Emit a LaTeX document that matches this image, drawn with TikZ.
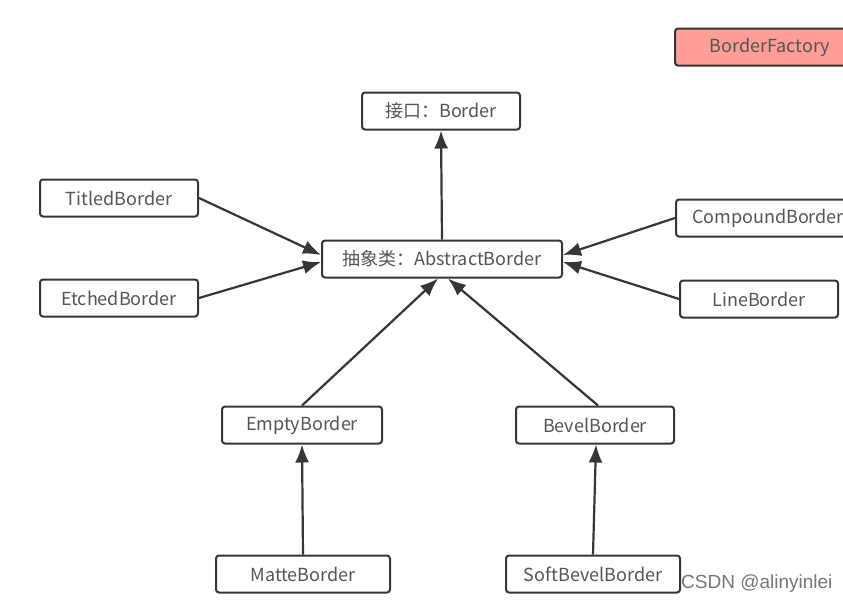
\documentclass[tikz,border=0pt]{standalone}
\usepackage{fontspec}
\setmainfont{Noto Sans CJK SC}
\newfontfamily\markfont{Liberation Sans}
\usetikzlibrary{arrows.meta}
\definecolor{boxline}{HTML}{363636}
\definecolor{boxtext}{HTML}{555555}
\definecolor{factory}{HTML}{FF9E96}

\tikzset{
  cls/.style={draw=boxline, line width=2pt, rounded corners=3pt, fill=white,
    minimum width=158pt, minimum height=37pt, inner sep=0pt,
    text=boxtext, font=\fontsize{18}{21}\selectfont},
  inherit/.style={-{Latex[length=18pt,width=14pt]}, line width=2.2pt, draw=boxline}
}

\begin{document}
\begin{tikzpicture}[x=1pt,y=-1pt]
\useasboundingbox (0,0) rectangle (843,605);
\clip (0,0) rectangle (843,605);
\fill[white] (0,0) rectangle (843,605);

\node[cls, fill=factory, minimum width=190pt] (factory) at (770,47) {BorderFactory};
\node[cls] (border) at (441,111) {接口：Border};
\node[cls, minimum width=240pt] (abs) at (442,259) {抽象类：AbstractBorder};
\node[cls] (titled) at (119,198) {TitledBorder};
\node[cls] (etched) at (119,298) {EtchedBorder};
\node[cls, minimum width=176pt, text width=144pt, align=left] (compound) at (764,218) {CompoundBorder};
\node[cls] (line) at (759,299) {LineBorder};
\node[cls, minimum width=160pt] (empty) at (302,425) {EmptyBorder};
\node[cls] (bevel) at (595,425) {BevelBorder};
\node[cls, minimum width=174pt] (matte) at (303,574) {MatteBorder};
\node[cls, minimum width=174pt] (soft) at (593,574) {SoftBevelBorder};

\draw[inherit] (abs.north) -- (border.south);
\draw[inherit] (titled.east) -- ([yshift=4pt]abs.west);
\draw[inherit] (etched.east) -- ([yshift=-3pt]abs.west);
\draw[inherit] (compound.west) -- ([yshift=4pt]abs.east);
\draw[inherit] (line.west) -- ([yshift=-3pt]abs.east);
\draw[inherit] (empty.north) -- ([xshift=-4pt]abs.south);
\draw[inherit] ([xshift=3pt]bevel.north) -- ([xshift=6pt]abs.south);
\draw[inherit] (matte.north) -- (empty.south);
\draw[inherit] (soft.north) -- ([xshift=1pt]bevel.south);

\node[anchor=west, text=boxtext!80, inner sep=0pt, font=\markfont\fontsize{19}{21}\selectfont] (mark) at (681,584) {CSDN @alinyinlei};
\end{tikzpicture}
\end{document}
